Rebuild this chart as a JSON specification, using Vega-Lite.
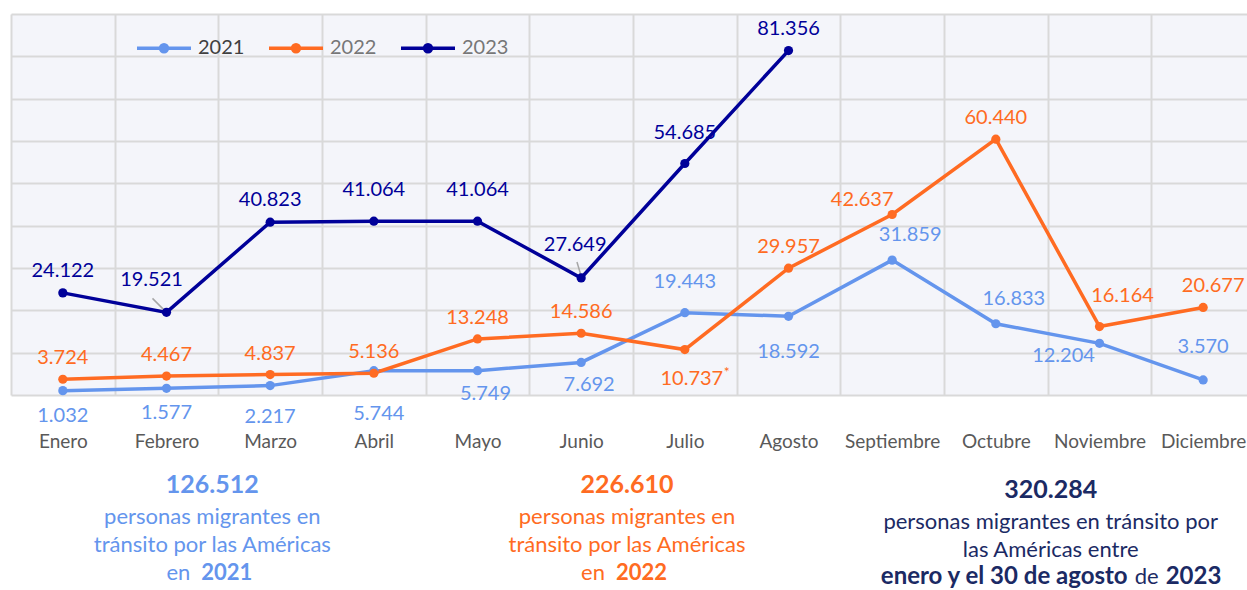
{
  "$schema": "https://vega.github.io/schema/vega-lite/v6.json",
  "padding": {"left": 11, "top": 14, "right": 0, "bottom": 0},
  "bounds": "flush",
  "spacing": 80,
  "config": {
    "font": "Lato",
    "view": {"stroke": null},
    "locale": {"number": {"decimal": ",", "thousands": ".", "grouping": [3], "currency": ["", " €"]}},
    "text": {"font": "Lato", "fontSize": 20, "baseline": "middle", "align": "center"}
  },
  "datasets": {
    "d": [
      {"year": "2021", "m": "Enero", "v": 1032},
      {"year": "2021", "m": "Febrero", "v": 1577},
      {"year": "2021", "m": "Marzo", "v": 2217},
      {"year": "2021", "m": "Abril", "v": 5744},
      {"year": "2021", "m": "Mayo", "v": 5749},
      {"year": "2021", "m": "Junio", "v": 7692},
      {"year": "2021", "m": "Julio", "v": 19443},
      {"year": "2021", "m": "Agosto", "v": 18592},
      {"year": "2021", "m": "Septiembre", "v": 31859},
      {"year": "2021", "m": "Octubre", "v": 16833},
      {"year": "2021", "m": "Noviembre", "v": 12204},
      {"year": "2021", "m": "Diciembre", "v": 3570},
      {"year": "2022", "m": "Enero", "v": 3724},
      {"year": "2022", "m": "Febrero", "v": 4467},
      {"year": "2022", "m": "Marzo", "v": 4837},
      {"year": "2022", "m": "Abril", "v": 5136},
      {"year": "2022", "m": "Mayo", "v": 13248},
      {"year": "2022", "m": "Junio", "v": 14586},
      {"year": "2022", "m": "Julio", "v": 10737},
      {"year": "2022", "m": "Agosto", "v": 29957},
      {"year": "2022", "m": "Septiembre", "v": 42637},
      {"year": "2022", "m": "Octubre", "v": 60440},
      {"year": "2022", "m": "Noviembre", "v": 16164},
      {"year": "2022", "m": "Diciembre", "v": 20677},
      {"year": "2023", "m": "Enero", "v": 24122},
      {"year": "2023", "m": "Febrero", "v": 19521},
      {"year": "2023", "m": "Marzo", "v": 40823},
      {"year": "2023", "m": "Abril", "v": 41064},
      {"year": "2023", "m": "Mayo", "v": 41064},
      {"year": "2023", "m": "Junio", "v": 27649},
      {"year": "2023", "m": "Julio", "v": 54685},
      {"year": "2023", "m": "Agosto", "v": 81356}
    ],
    "cap": [
      {"a": "Marzo", "g": "2021", "l": "0", "k": "num", "t": "126.512"},
      {"a": "Marzo", "g": "2021", "l": "1", "k": "n", "t": "personas migrantes en"},
      {"a": "Marzo", "g": "2021", "l": "2", "k": "n", "t": "tránsito por las Américas"},
      {"a": "Marzo", "g": "2021", "l": "3", "k": "pre", "t": "en"},
      {"a": "Marzo", "g": "2021", "l": "3", "k": "suf", "t": "2021"},
      {"a": "Julio", "g": "2022", "l": "0", "k": "num", "t": "226.610"},
      {"a": "Julio", "g": "2022", "l": "1", "k": "n", "t": "personas migrantes en"},
      {"a": "Julio", "g": "2022", "l": "2", "k": "n", "t": "tránsito por las Américas"},
      {"a": "Julio", "g": "2022", "l": "3", "k": "pre", "t": "en"},
      {"a": "Julio", "g": "2022", "l": "3", "k": "suf", "t": "2022"},
      {"a": "Noviembre", "g": "2023", "l": "0", "k": "num", "t": "320.284"},
      {"a": "Noviembre", "g": "2023", "l": "1", "k": "n", "t": "personas migrantes en tránsito por"},
      {"a": "Noviembre", "g": "2023", "l": "2", "k": "n", "t": "las Américas entre"},
      {"a": "Noviembre", "g": "2023", "l": "3", "k": "pre2", "t": "enero y el 30 de agosto"},
      {"a": "Noviembre", "g": "2023", "l": "3", "k": "mid", "t": "de"},
      {"a": "Noviembre", "g": "2023", "l": "3", "k": "suf2", "t": "2023"}
    ]
  },
  "vconcat": [
    {
      "width": 1244,
      "height": 381,
      "view": {"fill": "#F4F5FA", "stroke": null},
      "data": {"name": "d"},
      "encoding": {
        "x": {
          "field": "m", "type": "ordinal",
          "scale": {"type": "band", "domain": ["Enero","Febrero","Marzo","Abril","Mayo","Junio","Julio","Agosto","Septiembre","Octubre","Noviembre","Diciembre"], "paddingInner": 0, "paddingOuter": 0},
          "axis": {"title": null, "grid": true, "gridColor": "#D9D9D9", "gridWidth": 2, "tickBand": "extent", "domain": false, "ticks": false, "tickSize": 0, "labelPadding": 37, "labelFontSize": 19, "labelColor": "#595959", "labelFont": "Lato", "labelAngle": 0}
        },
        "y": {
          "field": "v", "type": "quantitative",
          "scale": {"domain": [0, 90000], "nice": false},
          "axis": {"title": null, "values": [0,10000,20000,30000,40000,50000,60000,70000,80000,90000], "labels": false, "ticks": false, "domain": false, "grid": true, "gridColor": "#D9D9D9", "gridWidth": 2}
        },
        "color": {
          "field": "year", "type": "nominal",
          "scale": {"domain": ["2021","2022","2023"], "range": ["#6495ED","#FF6B22","#000099"]},
          "legend": {
            "title": null, "orient": "none", "legendX": 124, "legendY": 5, "direction": "horizontal",
            "symbolType": "M-1,0H1M-0.13,0A0.13,0.13,0,1,0,0.13,0A0.13,0.13,0,1,0,-0.13,0",
            "symbolSize": 2916, "symbolStrokeWidth": 3.5,
            "labelFontSize": 20, "labelFont": "Lato", "labelOffset": 5, "columnPadding": 17, "padding": 0,
            "encode": {
              "symbols": {"update": {
                "fill": {"signal": "datum.value === '2021' ? '#6495ED' : datum.value === '2022' ? '#FF6B22' : '#000099'"},
                "stroke": {"signal": "datum.value === '2021' ? '#6495ED' : datum.value === '2022' ? '#FF6B22' : '#000099'"},
                "opacity": {"value": 1}
              }},
              "labels": {"update": {"fill": {"signal": "datum.value === '2021' ? '#404040' : '#777777'"}}}
            }
          }
        }
      },
      "layer": [
        {"mark": {"type": "line", "strokeWidth": 3.5}, "encoding": {"order": {"value": null}}},
        {"transform": [{"filter": {"and": [{"field": "year", "equal": "2023"}, {"field": "m", "equal": "Febrero"}]}}],
         "mark": {"type": "point", "shape": "M-1,-1L1,1", "size": 144, "filled": false, "strokeWidth": 1.5, "opacity": 1, "xOffset": -8, "yOffset": -8},
         "encoding": {"color": {"value": "#A6A6A6"}}},
        {"transform": [{"filter": {"and": [{"field": "year", "equal": "2023"}, {"field": "m", "equal": "Junio"}]}}],
         "mark": {"type": "point", "shape": "M-0.6,-1L0,1", "size": 196, "filled": false, "strokeWidth": 1.5, "opacity": 1, "xOffset": 0, "yOffset": -9},
         "encoding": {"color": {"value": "#A6A6A6"}}},
        {"mark": {"type": "point", "filled": true, "size": 85, "opacity": 1}},
        {"transform": [{"filter": {"and": [{"field": "year", "equal": "2023"}, {"field": "m", "oneOf": ["Enero","Marzo","Agosto"]}]}}],
         "mark": {"type": "text", "dy": -22}, "encoding": {"text": {"field": "v", "type": "quantitative", "format": ",.0f"}}},
        {"transform": [{"filter": {"and": [{"field": "year", "equal": "2023"}, {"field": "m", "oneOf": ["Abril","Mayo","Julio"]}]}}],
         "mark": {"type": "text", "dy": -31}, "encoding": {"text": {"field": "v", "type": "quantitative", "format": ",.0f"}}},
        {"transform": [{"filter": {"and": [{"field": "year", "equal": "2023"}, {"field": "m", "equal": "Febrero"}]}}],
         "mark": {"type": "text", "dy": -32, "dx": -15}, "encoding": {"text": {"field": "v", "type": "quantitative", "format": ",.0f"}}},
        {"transform": [{"filter": {"and": [{"field": "year", "equal": "2023"}, {"field": "m", "equal": "Junio"}]}}],
         "mark": {"type": "text", "dy": -33, "dx": -6}, "encoding": {"text": {"field": "v", "type": "quantitative", "format": ",.0f"}}},
        {"transform": [{"filter": {"and": [{"field": "year", "equal": "2022"}, {"field": "m", "oneOf": ["Enero","Febrero","Marzo","Abril","Mayo","Junio","Agosto","Octubre"]}]}}],
         "mark": {"type": "text", "dy": -21}, "encoding": {"text": {"field": "v", "type": "quantitative", "format": ",.0f"}}},
        {"transform": [{"filter": {"and": [{"field": "year", "equal": "2022"}, {"field": "m", "equal": "Julio"}]}}],
         "mark": {"type": "text", "dy": 29, "dx": 7}, "encoding": {"text": {"field": "v", "type": "quantitative", "format": ",.0f"}}},
        {"transform": [{"filter": {"and": [{"field": "year", "equal": "2022"}, {"field": "m", "equal": "Julio"}]}}],
         "mark": {"type": "text", "dy": 23, "dx": 42, "fontSize": 14}, "encoding": {"text": {"value": "*"}}},
        {"transform": [{"filter": {"and": [{"field": "year", "equal": "2022"}, {"field": "m", "equal": "Septiembre"}]}}],
         "mark": {"type": "text", "dy": -15, "dx": -30}, "encoding": {"text": {"field": "v", "type": "quantitative", "format": ",.0f"}}},
        {"transform": [{"filter": {"and": [{"field": "year", "equal": "2022"}, {"field": "m", "equal": "Noviembre"}]}}],
         "mark": {"type": "text", "dy": -31, "dx": 23}, "encoding": {"text": {"field": "v", "type": "quantitative", "format": ",.0f"}}},
        {"transform": [{"filter": {"and": [{"field": "year", "equal": "2022"}, {"field": "m", "equal": "Diciembre"}]}}],
         "mark": {"type": "text", "dy": -21, "dx": 10}, "encoding": {"text": {"field": "v", "type": "quantitative", "format": ",.0f"}}},
        {"transform": [{"filter": {"and": [{"field": "year", "equal": "2021"}, {"field": "m", "oneOf": ["Enero","Febrero"]}]}}],
         "mark": {"type": "text", "dy": 25}, "encoding": {"text": {"field": "v", "type": "quantitative", "format": ",.0f"}}},
        {"transform": [{"filter": {"and": [{"field": "year", "equal": "2021"}, {"field": "m", "equal": "Marzo"}]}}],
         "mark": {"type": "text", "dy": 31}, "encoding": {"text": {"field": "v", "type": "quantitative", "format": ",.0f"}}},
        {"transform": [{"filter": {"and": [{"field": "year", "equal": "2021"}, {"field": "m", "equal": "Abril"}]}}],
         "mark": {"type": "text", "dy": 43, "dx": 5}, "encoding": {"text": {"field": "v", "type": "quantitative", "format": ",.0f"}}},
        {"transform": [{"filter": {"and": [{"field": "year", "equal": "2021"}, {"field": "m", "oneOf": ["Mayo","Junio"]}]}}],
         "mark": {"type": "text", "dy": 23, "dx": 8}, "encoding": {"text": {"field": "v", "type": "quantitative", "format": ",.0f"}}},
        {"transform": [{"filter": {"and": [{"field": "year", "equal": "2021"}, {"field": "m", "equal": "Julio"}]}}],
         "mark": {"type": "text", "dy": -31}, "encoding": {"text": {"field": "v", "type": "quantitative", "format": ",.0f"}}},
        {"transform": [{"filter": {"and": [{"field": "year", "equal": "2021"}, {"field": "m", "equal": "Agosto"}]}}],
         "mark": {"type": "text", "dy": 36}, "encoding": {"text": {"field": "v", "type": "quantitative", "format": ",.0f"}}},
        {"transform": [{"filter": {"and": [{"field": "year", "equal": "2021"}, {"field": "m", "oneOf": ["Septiembre","Octubre"]}]}}],
         "mark": {"type": "text", "dy": -25, "dx": 18}, "encoding": {"text": {"field": "v", "type": "quantitative", "format": ",.0f"}}},
        {"transform": [{"filter": {"and": [{"field": "year", "equal": "2021"}, {"field": "m", "equal": "Noviembre"}]}}],
         "mark": {"type": "text", "dy": 13, "dx": -36}, "encoding": {"text": {"field": "v", "type": "quantitative", "format": ",.0f"}}},
        {"transform": [{"filter": {"and": [{"field": "year", "equal": "2021"}, {"field": "m", "equal": "Diciembre"}]}}],
         "mark": {"type": "text", "dy": -33}, "encoding": {"text": {"field": "v", "type": "quantitative", "format": ",.0f"}}}
      ]
    },
    {
      "width": 1244,
      "height": 112,
      "data": {"name": "cap"},
      "encoding": {
        "x": {
          "field": "a", "type": "ordinal", "bandPosition": 0,
          "scale": {"type": "band", "domain": ["Enero","Febrero","Marzo","Abril","Mayo","Junio","Julio","Agosto","Septiembre","Octubre","Noviembre","Diciembre"], "paddingInner": 0, "paddingOuter": 0},
          "axis": null
        },
        "y": {"field": "l", "type": "ordinal", "axis": null, "scale": {"type": "band", "paddingInner": 0, "paddingOuter": 0}},
        "text": {"field": "t"},
        "fill": {"field": "g", "type": "nominal", "scale": {"domain": ["2021","2022","2023"], "range": ["#6495ED","#FF6B22","#1B2A64"]}, "legend": null}
      },
      "layer": [
        {"transform": [{"filter": "datum.k === 'num' && datum.g !== '2023'"}],
         "mark": {"type": "text", "fontSize": 25, "fontWeight": "bold", "dx": -6, "dy": -4}},
        {"transform": [{"filter": "datum.k === 'num' && datum.g === '2023'"}],
         "mark": {"type": "text", "fontSize": 25, "fontWeight": "bold", "dx": 3, "dy": 1}},
        {"transform": [{"filter": "datum.k === 'n' && datum.g !== '2023'"}],
         "mark": {"type": "text", "fontSize": 22, "dx": -6}},
        {"transform": [{"filter": "datum.k === 'n' && datum.g === '2023'"}],
         "mark": {"type": "text", "fontSize": 22, "dx": 3, "dy": 5}},
        {"transform": [{"filter": "datum.k === 'pre'"}],
         "mark": {"type": "text", "fontSize": 22, "align": "right", "dx": -28}},
        {"transform": [{"filter": "datum.k === 'suf'"}],
         "mark": {"type": "text", "fontSize": 22, "fontWeight": "bold", "align": "left", "dx": -17}},
        {"transform": [{"filter": "datum.k === 'pre2'"}],
         "mark": {"type": "text", "fontSize": 24, "fontWeight": "bold", "align": "right", "dx": 80, "dy": 4}},
        {"transform": [{"filter": "datum.k === 'mid'"}],
         "mark": {"type": "text", "fontSize": 22, "align": "center", "dx": 99, "dy": 4}},
        {"transform": [{"filter": "datum.k === 'suf2'"}],
         "mark": {"type": "text", "fontSize": 24, "fontWeight": "bold", "align": "left", "dx": 118, "dy": 4}}
      ]
    }
  ]
}
